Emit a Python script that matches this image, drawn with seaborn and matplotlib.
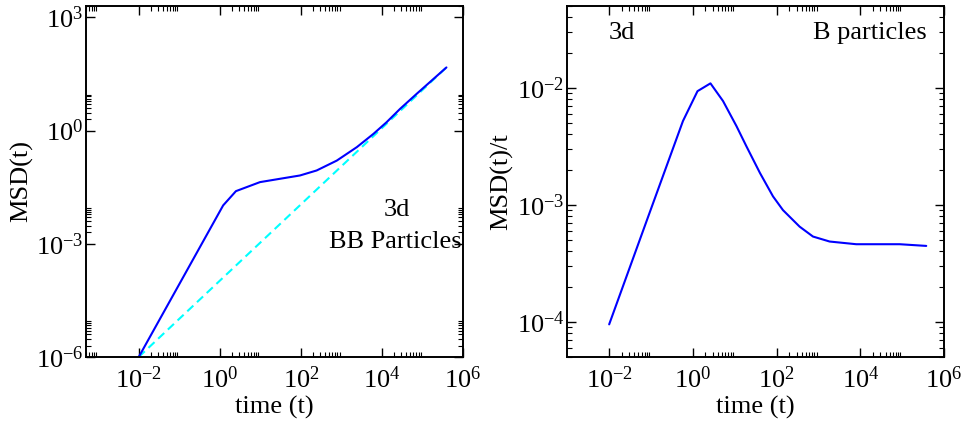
import math
import matplotlib
matplotlib.use("Agg")
import matplotlib.pyplot as plt
import matplotlib.ticker as mticker
import pandas as pd
import seaborn as sns

# BB particles: mean squared displacement vs time
bb_time = [0.01, 1.21, 2.5, 9.8, 30.5, 95, 245, 770, 2400, 6200, 13000, 28000, 72000, 390000]
bb_msd = [1.0e-6, 0.0104, 0.0248, 0.043, 0.0527, 0.0645, 0.0875, 0.16, 0.363, 0.82,
          1.66, 3.75, 9.4, 47.0]

# diffusive reference line (MSD ~ t)
diff_time = [0.01, 390000]
diff_msd = [1.0e-6, 47.0]

# B particles: MSD(t)/t vs time
b_time = [0.01, 0.081, 0.58, 1.29, 2.63, 5.25, 11, 19, 40, 82, 142, 355, 740, 1850,
          8000, 87000, 376000]
b_msd_t = [9.5e-5, 7.5e-4, 5.2e-3, 9.35e-3, 1.09e-2, 7.7e-3, 4.7e-3, 3.16e-3, 1.87e-3,
           1.18e-3, 9.0e-4, 6.5e-4, 5.35e-4, 4.85e-4, 4.6e-4, 4.6e-4, 4.45e-4]

# labelled tick positions
time_ticks = [1e-2, 1e0, 1e2, 1e4, 1e6]
msd_ticks = [1e-6, 1e-3, 1e0, 1e3]
ratio_ticks = [1e-4, 1e-3, 1e-2]

sns.set_theme(style="ticks")
plt.rcParams.update({
    "font.family": ["Liberation Serif", "DejaVu Serif"],
    "mathtext.fontset": "custom",
    "mathtext.rm": "Liberation Serif",
    "mathtext.it": "Liberation Serif:italic",
    "mathtext.bf": "Liberation Serif:bold",
    "axes.unicode_minus": False,
    "axes.edgecolor": "black",
    "axes.linewidth": 1.4,
    "xtick.color": "black",
    "ytick.color": "black",
    "text.color": "black",
    "axes.labelcolor": "black",
})

FS = 19
BLUE = "#0000ff"
CYAN = "#00ffff"

fig = plt.figure(figsize=(9.63, 4.25), dpi=100)
ax1 = fig.add_axes([0.0893, 0.160, 0.3915, 0.826])
ax2 = fig.add_axes([0.5891, 0.160, 0.3912, 0.826])

df_bb = pd.DataFrame({"t": bb_time, "msd": bb_msd})
df_diff = pd.DataFrame({"t": diff_time, "msd": diff_msd})
df_b = pd.DataFrame({"t": b_time, "v": b_msd_t})

for ax in (ax1, ax2):
    ax.set_xscale("log")
    ax.set_yscale("log")

sns.lineplot(data=df_diff, x="t", y="msd", ax=ax1, color=CYAN, lw=1.5,
             linestyle=(0, (4, 2.4)), estimator=None, sort=False)
sns.lineplot(data=df_bb, x="t", y="msd", ax=ax1, color=BLUE, lw=1.5,
             estimator=None, sort=False)
sns.lineplot(data=df_b, x="t", y="v", ax=ax2, color=BLUE, lw=1.5,
             estimator=None, sort=False)

ax1.set_xlim(5e-4, 1e6)
ax1.set_ylim(1e-6, 2e3)
ax2.set_xlim(1e-3, 1e6)
ax2.set_ylim(5e-5, 5e-2)


def pow10(v, pos):
    e = int(round(math.log10(v)))
    return r"$\mathdefault{10^{%d}}$" % e


subs = [2, 3, 4, 5, 6, 7, 8, 9]
ax1.xaxis.set_major_locator(mticker.FixedLocator(time_ticks))
ax1.xaxis.set_minor_locator(mticker.LogLocator(base=100, subs=subs))
ax1.yaxis.set_major_locator(mticker.FixedLocator(msd_ticks))
ax1.yaxis.set_minor_locator(mticker.LogLocator(base=1000, subs=subs))
ax2.xaxis.set_major_locator(mticker.FixedLocator(time_ticks))
ax2.xaxis.set_minor_locator(mticker.LogLocator(base=100, subs=subs))
ax2.yaxis.set_major_locator(mticker.FixedLocator(ratio_ticks))
ax2.yaxis.set_minor_locator(mticker.LogLocator(base=10, subs=subs))

for ax in (ax1, ax2):
    ax.xaxis.set_major_formatter(mticker.FuncFormatter(pow10))
    ax.yaxis.set_major_formatter(mticker.FuncFormatter(pow10))
    ax.xaxis.set_minor_formatter(mticker.NullFormatter())
    ax.yaxis.set_minor_formatter(mticker.NullFormatter())
    ax.tick_params(which="both", direction="in", top=True, right=True,
                   labelsize=FS)
    ax.tick_params(which="major", length=6.5, width=1.0)
    ax.tick_params(which="minor", length=3.5, width=0.8)
    ax.tick_params(axis="x", which="major", pad=7)
    ax.tick_params(axis="y", which="major", pad=2)
    ax.set_xlabel("time (t)", fontsize=FS)
    ax.xaxis.set_label_coords(0.5, -0.111)
    for s in ax.spines.values():
        s.set_visible(True)

ax1.set_ylabel("MSD(t)", fontsize=FS)
ax1.yaxis.set_label_coords(-0.141, 0.5)
ax2.set_ylabel("MSD(t)/t", fontsize=FS)
ax2.yaxis.set_label_coords(-0.144, 0.5)

ax1.text(0.825, 0.419, "3d", transform=ax1.transAxes, ha="center", va="center",
         fontsize=FS)
ax1.text(0.82, 0.328, "BB Particles", transform=ax1.transAxes, ha="center",
         va="center", fontsize=FS)
ax2.text(0.144, 0.923, "3d", transform=ax2.transAxes, ha="center", va="center",
         fontsize=FS)
ax2.text(0.955, 0.923, "B particles", transform=ax2.transAxes, ha="right",
         va="center", fontsize=FS)

fig.savefig("out.png", dpi=100, facecolor="white")
